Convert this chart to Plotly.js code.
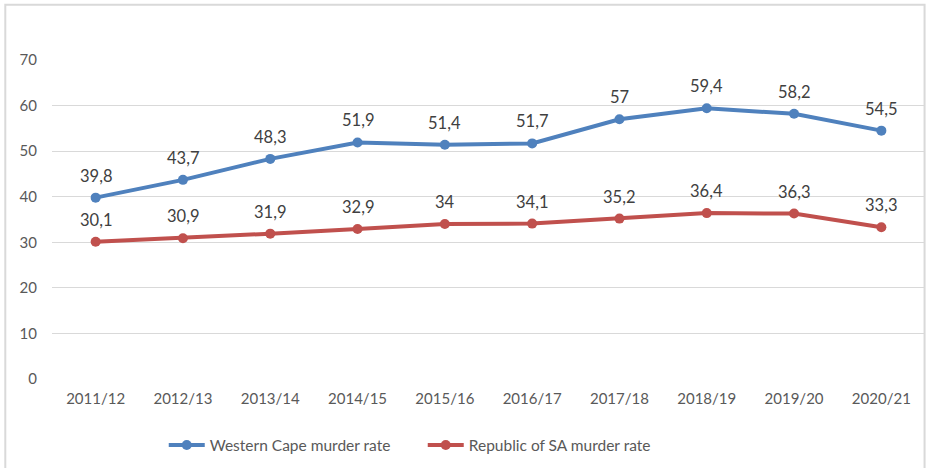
<!DOCTYPE html>
<html>
<head>
<meta charset="utf-8">
<script src="https://cdn.plot.ly/plotly-3.0.1.min.js"></script>
<style>html,body{margin:0;padding:0;background:#fff;}#chart{width:927px;height:468px;}</style>
</head>
<body>
<div id="chart"></div>
<script>
const years = ["2011/12","2012/13","2013/14","2014/15","2015/16","2016/17","2017/18","2018/19","2019/20","2020/21"];
const westernCape = [39.8,43.7,48.3,51.9,51.4,51.7,57,59.4,58.2,54.5];
const republicSA = [30.1,30.9,31.9,32.9,34,34.1,35.2,36.4,36.3,33.3];
const seriesNames = ["Western Cape murder rate","Republic of SA murder rate"];
const yTicks = [0,10,20,30,40,50,60,70];

const fontFam = "Lato, 'Open Sans', sans-serif";
const fmt = v => String(v).replace('.', ',');

const traces = [
  {x: years, y: westernCape, name: seriesNames[0], type: 'scatter', mode: 'lines+markers',
   line: {color: '#4F81BD', width: 4}, marker: {color: '#4F81BD', size: 10}},
  {x: years, y: republicSA, name: seriesNames[1], type: 'scatter', mode: 'lines+markers',
   line: {color: '#C0504D', width: 4}, marker: {color: '#C0504D', size: 10}}
];

const annotations = [];
[westernCape, republicSA].forEach(arr => {
  arr.forEach((v, i) => {
    annotations.push({x: years[i], y: v, xref: 'x', yref: 'y', text: fmt(v), showarrow: false,
      yshift: 22, font: {family: fontFam, size: 16.5, color: '#404040'}});
  });
});

const layout = {
  width: 927, height: 468,
  margin: {l: 52, r: 2, t: 60, b: 89, pad: 0},
  paper_bgcolor: '#fff', plot_bgcolor: '#fff',
  font: {family: fontFam, size: 15, color: '#595959'},
  xaxis: {type: 'category', range: [-0.5, years.length - 0.5], showgrid: false, zeroline: false,
    showline: false, automargin: false,
    ticks: '', tickfont: {family: fontFam, size: 15, color: '#595959'}, ticklabelstandoff: 9},
  yaxis: {range: [0, 70], tickvals: yTicks, showgrid: true, gridcolor: '#D9D9D9', gridwidth: 1,
    zeroline: false, showline: false, ticks: '', ticklabelstandoff: 14, automargin: false,
    tickfont: {family: fontFam, size: 15, color: '#595959'}},
  showlegend: true,
  legend: {orientation: 'h', x: 0.128, xanchor: 'left', y: -0.208, yanchor: 'middle',
    font: {family: fontFam, size: 15.5, color: '#595959'}, itemwidth: 36,
    entrywidth: 208, entrywidthmode: 'pixels'},
  annotations: annotations,
  shapes: [{type: 'rect', xref: 'paper', yref: 'paper', x0: -0.0535, x1: 0.9995, y0: -0.3, y1: 1.173,
    line: {color: '#D9D9D9', width: 2}, layer: 'below'}]
};

Plotly.newPlot('chart', traces, layout, {displayModeBar: false, staticPlot: true});
</script>
</body>
</html>
